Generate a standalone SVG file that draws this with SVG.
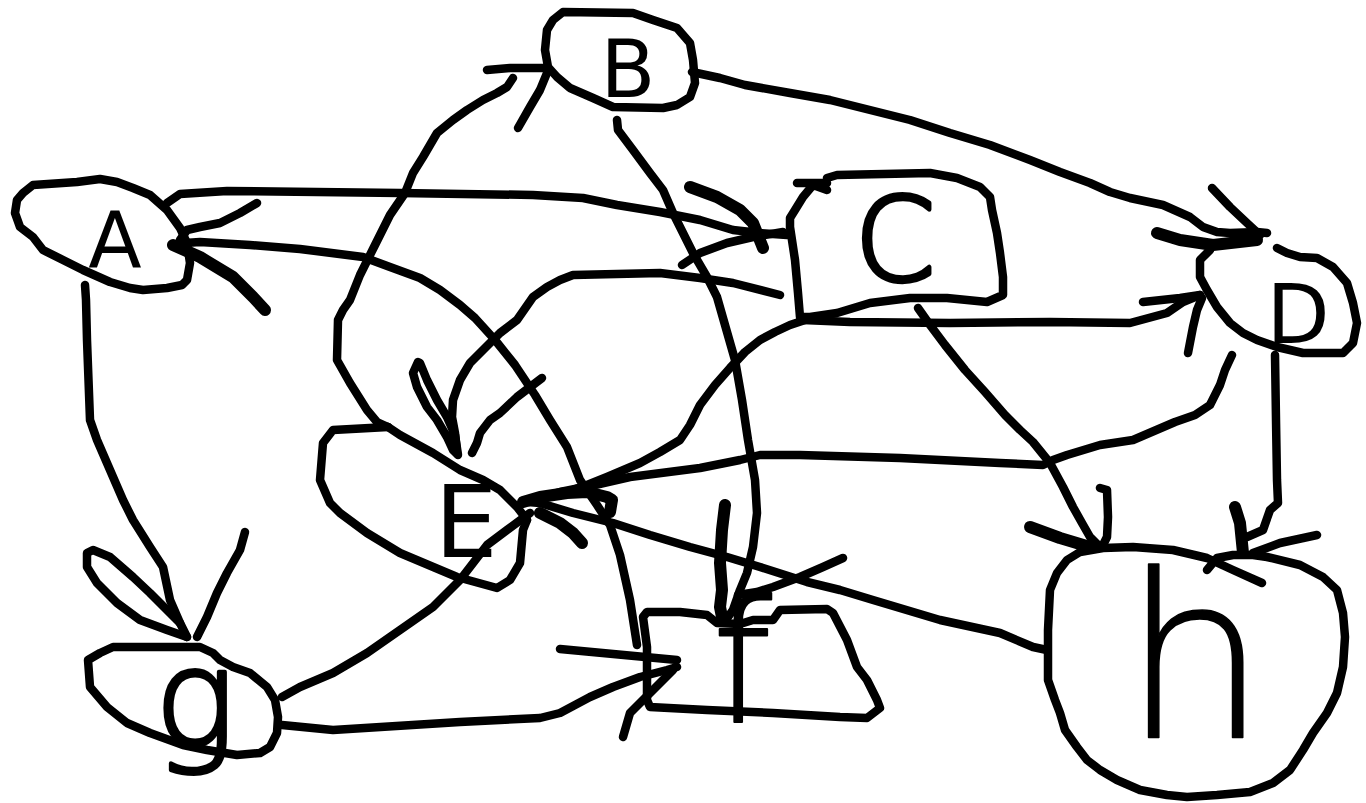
<svg xmlns="http://www.w3.org/2000/svg" width="1366" height="803" viewBox="0 0 1366 803">
<style>
  .s { fill: none; stroke: #000; stroke-width: 8.5; stroke-linecap: round; stroke-linejoin: round; }
  .w { fill: none; stroke: #000; stroke-width: 8.5; stroke-linecap: round; stroke-linejoin: round; }
  .tw { fill: none; stroke: #000; stroke-width: 12; stroke-linecap: round; stroke-linejoin: round; }
  .lbl { font-family: "DejaVu Sans", "Liberation Sans", sans-serif; fill: #000; text-anchor: middle; }
  .thin { font-weight: 200; stroke: #000; stroke-linejoin: round; }
</style>
<rect width="1366" height="803" fill="#fff"/>

<g id="connectors">
  <!-- A -> C -->
  <path class="s" d="M167,203 L180,194 L227,191 L400,193 L533,195 L583,198 L617,205 L660,212 L700,220 L733,230 L760,233 L787,235"/>
  <path class="tw" d="M690,187 L717,197 L740,210 L753,223 L763,248"/>
  <path class="w" d="M682,265 L700,253 L727,243 L753,237 L783,232"/>

  <!-- C -> E (upper curve) -->
  <path class="s" d="M780,295 L733,283 L700,278 L660,273 L573,275 L560,280 L547,287 L533,297 L517,320 L500,333 L483,350 L470,363 L460,380 L453,400 L452,417 L455,433 L457,453"/>
  <path class="w" d="M418,362 L413,373 L417,387 L427,407 L437,420 L447,437 L453,450 L458,455 L455,435 L447,417 L437,400 L427,380 L420,363 Z"/>
  <path class="w" d="M542,378 L517,397 L500,413 L490,420 L480,433 L477,443 L472,453"/>

  <!-- f -> A -->
  <path class="s" d="M637,645 L630,600 L620,555 L610,525 L597,505 L580,480 L567,447 L550,420 L535,395 L515,365 L495,340 L475,318 L460,305 L440,290 L420,278 L390,267 L363,257 L300,249 L250,245 L200,242 L185,243"/>
  <path class="w" d="M257,203 L240,213 L220,223 L200,227 L187,230 L180,240"/>
  <path class="tw" d="M173,245 L200,257 L233,277 L253,297 L265,310"/>

  <!-- A -> g -->
  <path class="s" d="M85,285 L86,300 L87,340 L90,420 L97,440 L110,470 L123,500 L133,520 L150,547 L163,567 L170,600 L180,623 L187,637"/>
  <path class="w" d="M187,637 L167,630 L140,620 L117,603 L97,583 L87,567 L87,553 L93,550 L110,557 L133,577 L150,593 L167,610 L180,623"/>
  <path class="w" d="M245,532 L240,550 L227,573 L217,593 L207,617 L197,637"/>

  <!-- E -> B -->
  <path class="s" d="M388,427 L377,422 L367,410 L350,383 L337,360 L338,320 L343,310 L350,300 L360,275 L375,245 L390,215 L405,193 L413,173 L423,157 L437,133 L453,120 L467,110 L483,100 L497,93 L507,87 L513,78"/>
  <path class="w" d="M487,70 L510,68 L547,68"/>
  <path class="w" d="M547,73 L540,90 L530,107 L518,128"/>

  <!-- B -> f -->
  <path class="s" d="M617,120 L618,130 L633,150 L650,173 L663,190 L673,213 L683,233 L693,253 L707,277 L717,297 L725,325 L735,360 L742,400 L748,440 L755,480 L757,513 L753,547 L747,573 L740,590 L733,610 L728,617"/>
  <path class="tw" d="M725,505 L722,530 L720,563 L722,590 L720,607 L722,617"/>
  <path class="w" d="M738,595 L757,592 L773,587 L800,577 L823,567 L843,558"/>

  <!-- B -> D -->
  <path class="s" d="M692,72 L720,78 L745,85 L790,93 L830,100 L870,110 L910,120 L950,133 L990,145 L1030,160 L1060,172 L1090,183 L1110,192 L1130,198 L1163,205 L1190,217 L1203,227 L1217,232 L1230,233 L1257,232 L1267,233"/>
  <path class="w" d="M1212,188 L1230,207 L1247,223 L1260,235"/>
  <path class="tw" d="M1157,233 L1180,240 L1213,245 L1257,240"/>

  <!-- C -> D -->
  <path class="s" d="M803,320 L850,322 L950,323 L1050,322 L1130,323 L1167,313 L1183,302 L1200,295"/>
  <path class="w" d="M1143,302 L1180,298 L1200,295"/>
  <path class="w" d="M1188,353 L1193,327 L1197,310 L1202,298"/>

  <!-- C -> E (lower curve) -->
  <path class="s" d="M805,320 L790,325 L775,332 L760,340 L745,352 L730,368 L715,385 L700,405 L690,425 L680,440 L660,452 L640,463 L607,477 L587,485 L567,492 L543,498 L527,502"/>

  <!-- D -> E -->
  <path class="s" d="M1232,355 L1225,370 L1220,385 L1210,405 L1195,415 L1175,422 L1133,440 L1100,445 L1067,455 L1053,460 L1043,465 L1000,463 L900,458 L800,455 L760,455 L740,460 L700,468 L630,477 L595,485 L560,492 L530,500"/>

  <!-- arrowheads at E -->
  <path class="tw" d="M523,502 L540,497 L567,493 L587,492 L607,497 L612,500 L610,512"/>
  <path class="tw" d="M540,513 L560,523 L573,533 L582,543"/>

  <!-- C -> h -->
  <path class="s" d="M918,308 L930,325 L945,345 L965,370 L985,392 L1005,415 L1020,430 L1033,442 L1050,463 L1063,487 L1073,507 L1082,523 L1090,537 L1100,547"/>
  <path class="tw" d="M1030,527 L1060,538 L1090,547"/>
  <path class="w" d="M1100,488 L1107,490 L1108,517 L1107,537 L1102,547"/>

  <!-- D -> h -->
  <path class="s" d="M1275,355 L1276,420 L1277,480 L1278,503 L1270,510 L1263,530 L1247,537"/>
  <path class="tw" d="M1235,507 L1240,523 L1243,553"/>
  <path class="w" d="M1317,535 L1280,543 L1253,553"/>

  <!-- h -> E -->
  <path class="s" d="M1047,650 L1033,647 L1000,633 L940,620 L873,600 L840,590 L807,582 L760,567 L727,557 L690,547 L650,535 L613,523 L573,513 L540,503 L528,502"/>

  <!-- g -> E -->
  <path class="s" d="M282,697 L300,687 L333,673 L367,653 L400,630 L433,607 L460,580 L487,545 L507,530 L530,513"/>

  <!-- g -> f -->
  <path class="s" d="M282,725 L333,730 L460,722 L540,718 L560,713 L590,697 L613,687 L640,677 L667,670 L677,667"/>
  <path class="w" d="M560,649 L677,660"/>
  <path class="w" d="M623,737 L630,713 L650,693 L673,670"/>
</g>

<g id="node-A">
  <path class="s" d="M33,185 L77,182 L100,179 L117,182 L133,188 L150,195 L167,210 L180,228 L187,243 L190,263 L187,280 L182,285 L167,288 L143,290 L130,288 L110,282 L83,270 L63,260 L43,250 L33,237 L20,227 L15,213 L17,200 L23,193 Z"/>
  <text class="lbl" x="115" y="268" font-size="78">A</text>
</g>

<g id="node-B">
  <path class="s" d="M563,12 L633,13 L653,20 L677,28 L690,43 L693,60 L695,83 L690,97 L677,105 L663,108 L613,107 L593,98 L570,88 L557,77 L548,67 L545,50 L547,30 L553,20 Z"/>
  <text class="lbl" x="628" y="97" font-size="80">B</text>
</g>

<g id="node-C">
  <path class="s" d="M827,190 L813,185 L803,197 L795,210 L790,218 L790,227 L795,260 L798,293 L800,317 L810,317 L837,313 L870,303 L910,298 L947,298 L987,302 L1003,295 L1003,277 L1000,253 L997,233 L992,210 L990,197 L980,187 L957,178 L930,173 L837,175 L827,178"/>
  <path class="s" d="M797,183 L827,183"/>
  <text class="lbl thin" x="895" y="280" font-size="116" stroke-width="4.5">C</text>
</g>

<g id="node-D">
  <path class="s" d="M1210,250 L1200,260 L1200,277 L1207,290 L1217,307 L1230,323 L1243,333 L1257,340 L1277,347 L1303,353 L1343,353 L1353,343 L1357,323 L1353,303 L1347,283 L1333,267 L1317,258 L1300,257 L1287,253 L1277,248"/>
  <text class="lbl" x="1298" y="343" font-size="82">D</text>
</g>

<g id="node-E">
  <path class="s" d="M388,427 L333,430 L323,443 L320,480 L330,503 L340,513 L367,533 L400,553 L457,577 L497,588 L510,580 L520,563 L523,530 L527,520"/>
  <path class="s" d="M388,427 L400,435 L433,453 L460,470 L483,480 L500,490 L517,507 L527,520"/>
  <text class="lbl" x="466" y="557" font-size="100">E</text>
</g>

<g id="node-f">
  <path class="s" d="M643,617 L647,612 L680,612 L707,615 L717,623 L740,624 L753,620 L773,620 L780,610 L827,609 L833,613 L847,640 L857,667 L867,680 L877,700 L880,708 L867,718 L840,717 L773,713 L707,710 L650,707 L647,700 L647,647 Z"/>
  <text class="lbl thin" x="742" y="722" font-size="170" stroke-width="2">f</text>
</g>

<g id="node-g">
  <path class="s" d="M113,647 L200,647 L213,653 L220,660 L233,667 L250,673 L267,687 L275,700 L278,717 L277,733 L270,747 L260,753 L237,755 L207,750 L183,745 L150,733 L127,723 L107,707 L90,687 L88,660 L100,653 Z"/>
  <text class="lbl thin" x="195" y="746" font-size="135" stroke-width="4">g</text>
</g>

<g id="node-h">
  <path class="s" d="M1207,570 L1217,558 L1233,555 L1253,555 L1267,557 L1300,565 L1323,577 L1337,590 L1343,613 L1345,637 L1343,667 L1337,693 L1327,713 L1313,733 L1303,750 L1290,770 L1273,783 L1250,792 L1217,795 L1187,797 L1167,795 L1140,790 L1117,780 L1100,770 L1087,760 L1077,747 L1065,730 L1060,713 L1055,700 L1048,680 L1048,630 L1050,590 L1057,573 L1067,560 L1080,552 L1103,548 L1133,547 L1173,550 L1207,558 L1233,570 L1262,583"/>
  <text class="lbl thin" x="1195" y="738" font-size="228" stroke-width="1.5">h</text>
</g>
</svg>
